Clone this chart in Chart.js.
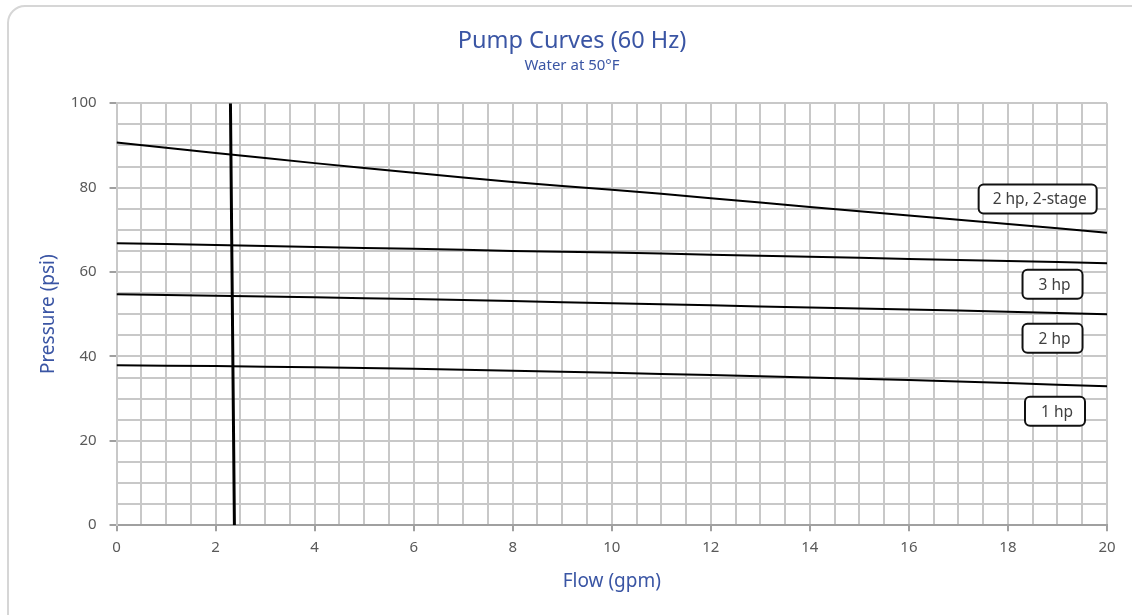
<!DOCTYPE html>
<html>
<head>
<meta charset="utf-8">
<script src="https://cdn.jsdelivr.net/npm/chart.js@4.4.1/dist/chart.umd.min.js"></script>
<style>
  html, body { margin: 0; padding: 0; background: #fff; }
  #wrap { position: relative; width: 1132px; height: 615px; overflow: hidden; }
  #frame {
    position: absolute; left: 7px; top: 5px; width: 1150px; height: 640px;
    border: 2px solid #d6d6d6; border-radius: 18px; box-sizing: border-box;
  }
  canvas { position: absolute; left: 0; top: 0; }
</style>
</head>
<body>
<div id="wrap">
  <div id="frame"></div>
  <canvas id="chart" width="1132" height="615"></canvas>
</div>
<script>
// Flow points (gpm) shared by the pump curves
const flow = [0, 2, 4, 6, 8, 10, 12, 14, 16, 18, 20];

// Pressure (psi) per pump
const pump2hp2stage = [90.7, 88.2, 85.8, 83.5, 81.3, 79.5, 77.5, 75.4, 73.4, 71.4, 69.3];
const pump3hp = [66.8, 66.4, 65.9, 65.5, 65.0, 64.6, 64.1, 63.6, 63.1, 62.6, 62.1];
const pump2hp = [54.7, 54.4, 54.0, 53.6, 53.1, 52.6, 52.1, 51.6, 51.1, 50.6, 50.0];
const pump1hp = [37.9, 37.7, 37.4, 37.1, 36.6, 36.1, 35.6, 35.0, 34.4, 33.7, 32.9];

// Near-vertical system line
const sysFlow = [2.30, 2.34, 2.38];
const sysPressure = [100, 50, 0];

// Curve labels and where they sit (data coords)
const labelTexts = ['2 hp, 2-stage', '3 hp', '2 hp', '1 hp'];
const labelFlow = [18.6, 18.9, 18.9, 18.95];
const labelPressure = [77.3, 57.1, 44.3, 27.0];

const xTicks = [0, 2, 4, 6, 8, 10, 12, 14, 16, 18, 20];
const yTicks = [0, 20, 40, 60, 80, 100];

const blue = '#3a55a4';
const font = '"Noto Sans", "Open Sans", sans-serif';

function pts(xs, ys) {
    return xs.map((x, i) => ({ x: x, y: ys[i] }));
}

function curve(data, width) {
    return {
        data: data,
        borderColor: '#000',
        borderWidth: width,
        pointRadius: 0,
        tension: 0.3,
        fill: false
    };
}

// Draws the boxed curve labels
const curveLabels = {
    id: 'curveLabels',
    afterDatasetsDraw(chart) {
        const ctx = chart.ctx;
        const xs = chart.scales.x, ys = chart.scales.y;
        ctx.save();
        ctx.font = '15.5px ' + font;
        ctx.textAlign = 'center';
        ctx.textBaseline = 'middle';
        labelTexts.forEach((t, i) => {
            const cx = xs.getPixelForValue(labelFlow[i]);
            const cy = ys.getPixelForValue(labelPressure[i]);
            const w = Math.max(60, ctx.measureText(t).width + 24);
            const h = 29;
            ctx.beginPath();
            ctx.roundRect(cx - w / 2, cy - h / 2, w, h, 5);
            ctx.fillStyle = '#fff';
            ctx.fill();
            ctx.lineWidth = 2;
            ctx.strokeStyle = '#111';
            ctx.stroke();
            ctx.fillStyle = '#404040';
            ctx.fillText(t, cx + 2, cy + 1);
        });
        ctx.restore();
    }
};

new Chart(document.getElementById('chart'), {
    type: 'line',
    data: {
        datasets: [
            curve(pts(flow, pump2hp2stage), 2),
            curve(pts(flow, pump3hp), 2),
            curve(pts(flow, pump2hp), 2),
            curve(pts(flow, pump1hp), 2),
            curve(pts(sysFlow, sysPressure), 3)
        ]
    },
    options: {
        responsive: false,
        animation: false,
        layout: { padding: { left: 37, right: 25, top: 8, bottom: 22 } },
        plugins: {
            legend: { display: false },
            tooltip: { enabled: false },
            title: {
                display: true,
                text: 'Pump Curves (60 Hz)',
                color: blue,
                font: { family: font, size: 23.5, weight: 'normal' },
                padding: { top: 19, bottom: 0 }
            },
            subtitle: {
                display: true,
                text: 'Water at 50°F',
                color: blue,
                font: { family: font, size: 15, weight: 'normal' },
                padding: { top: 2, bottom: 28 }
            }
        },
        scales: {
            x: {
                type: 'linear',
                min: 0,
                max: 20,
                afterBuildTicks(axis) {
                    const t = [];
                    for (let v = 0; v <= 40; v++) t.push({ value: v / 2 });
                    axis.ticks = t;
                },
                ticks: {
                    autoSkip: false,
                    maxRotation: 0,
                    color: '#595959',
                    font: { family: font, size: 15 },
                    padding: 8,
                    callback: v => xTicks.includes(v) ? String(v) : ''
                },
                grid: {
                    color: '#c8c8c8',
                    lineWidth: 2,
                    tickLength: 6,
                    tickColor: c => (c.tick && xTicks.includes(c.tick.value)) ? '#a0a0a0' : 'rgba(0,0,0,0)'
                },
                border: { color: '#a0a0a0', width: 2 },
                title: {
                    display: true,
                    text: 'Flow (gpm)',
                    color: blue,
                    font: { family: font, size: 19 },
                    padding: { top: 5, bottom: 0 }
                }
            },
            y: {
                min: 0,
                max: 100,
                afterBuildTicks(axis) {
                    const t = [];
                    for (let v = 0; v <= 100; v += 5) t.push({ value: v });
                    axis.ticks = t;
                },
                ticks: {
                    autoSkip: false,
                    color: '#595959',
                    font: { family: font, size: 15 },
                    padding: 13,
                    callback: v => yTicks.includes(v) ? String(v) : ''
                },
                grid: {
                    color: '#c8c8c8',
                    lineWidth: 2,
                    tickLength: 7,
                    tickColor: c => (c.tick && yTicks.includes(c.tick.value)) ? '#a0a0a0' : 'rgba(0,0,0,0)'
                },
                border: { color: '#c8c8c8', width: 2 },
                title: {
                    display: true,
                    text: 'Pressure (psi)',
                    color: blue,
                    font: { family: font, size: 19 },
                    padding: { top: 0, bottom: -2 }
                }
            }
        }
    },
    plugins: [curveLabels]
});
</script>
</body>
</html>
